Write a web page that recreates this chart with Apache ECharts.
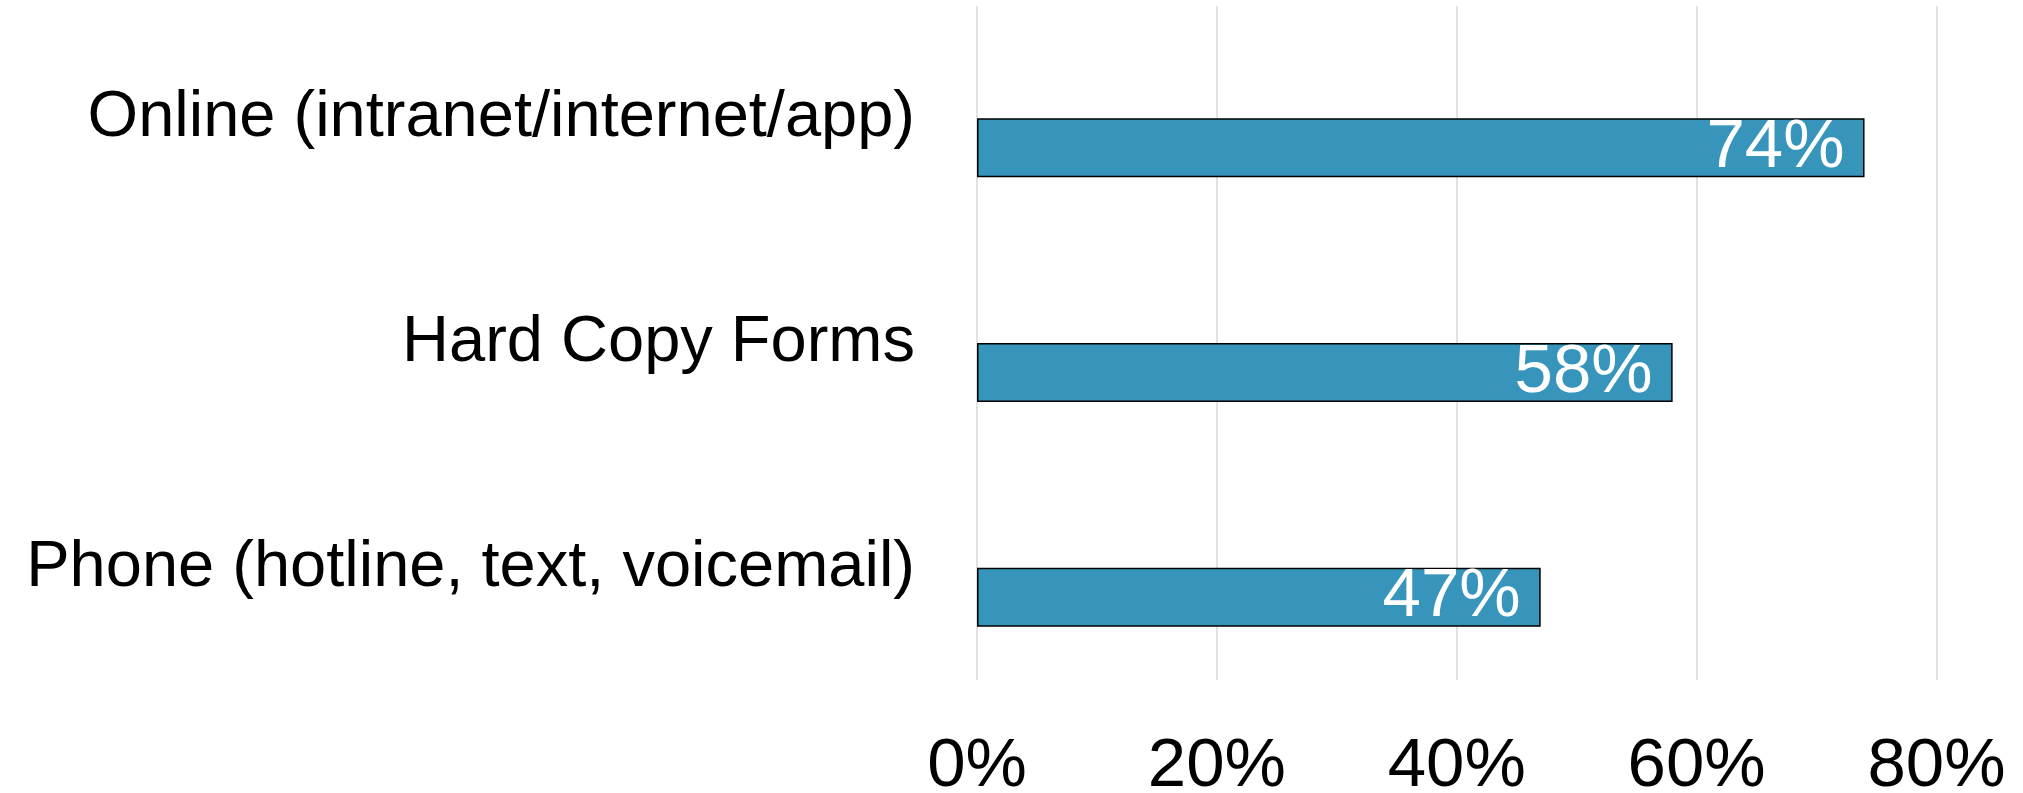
<!DOCTYPE html>
<html>
<head>
<meta charset="utf-8">
<script src="https://cdn.jsdelivr.net/npm/echarts@6/dist/echarts.min.js"></script>
<style>
html,body{margin:0;padding:0;background:#fff;}
#chart{width:2023px;height:793px;}
</style>
</head>
<body>
<div id="chart"></div>
<script>
const categories = ['Online (intranet/internet/app)', 'Hard Copy Forms', 'Phone (hotline, text, voicemail)'];
const values = [74, 58, 47];
const tickValues = [0, 20, 40, 60, 80];

const FONT = 'Liberation Sans';
const chart = echarts.init(document.getElementById('chart'), null, {renderer: 'canvas'});
chart.setOption({
  animation: false,
  backgroundColor: '#ffffff',
  grid: {left: 977, right: 86.5, top: 6, bottom: 113, containLabel: false, outerBoundsMode: 'none'},
  xAxis: {
    type: 'value',
    min: tickValues[0],
    max: tickValues[tickValues.length - 1],
    interval: 20,
    axisLine: {show: false},
    axisTick: {show: false},
    splitLine: {show: true, lineStyle: {color: '#d9d9d9', width: 1.5}},
    axisLabel: {formatter: '{value}%', fontSize: 69, fontFamily: FONT, color: '#000', margin: 52}
  },
  yAxis: {
    type: 'category',
    inverse: true,
    data: categories,
    axisLine: {show: false},
    axisTick: {show: false},
    axisLabel: {fontSize: 65, fontFamily: FONT, color: '#000', margin: 62}
  },
  series: [
    {
      type: 'bar',
      name: 'spacer',
      data: categories.map(() => null),
      barWidth: 59,
      barGap: '0%'
    },
    {
      type: 'bar',
      name: 'Share',
      data: values,
      barWidth: 59,
      barGap: '0%',
      itemStyle: {color: '#3795bb', borderColor: '#000', borderWidth: 1.5},
      label: {
        show: true,
        position: 'insideRight',
        distance: 20,
        formatter: '{c}%',
        color: '#fff',
        fontSize: 69,
        fontFamily: FONT
      }
    }
  ]
});
</script>
</body>
</html>
